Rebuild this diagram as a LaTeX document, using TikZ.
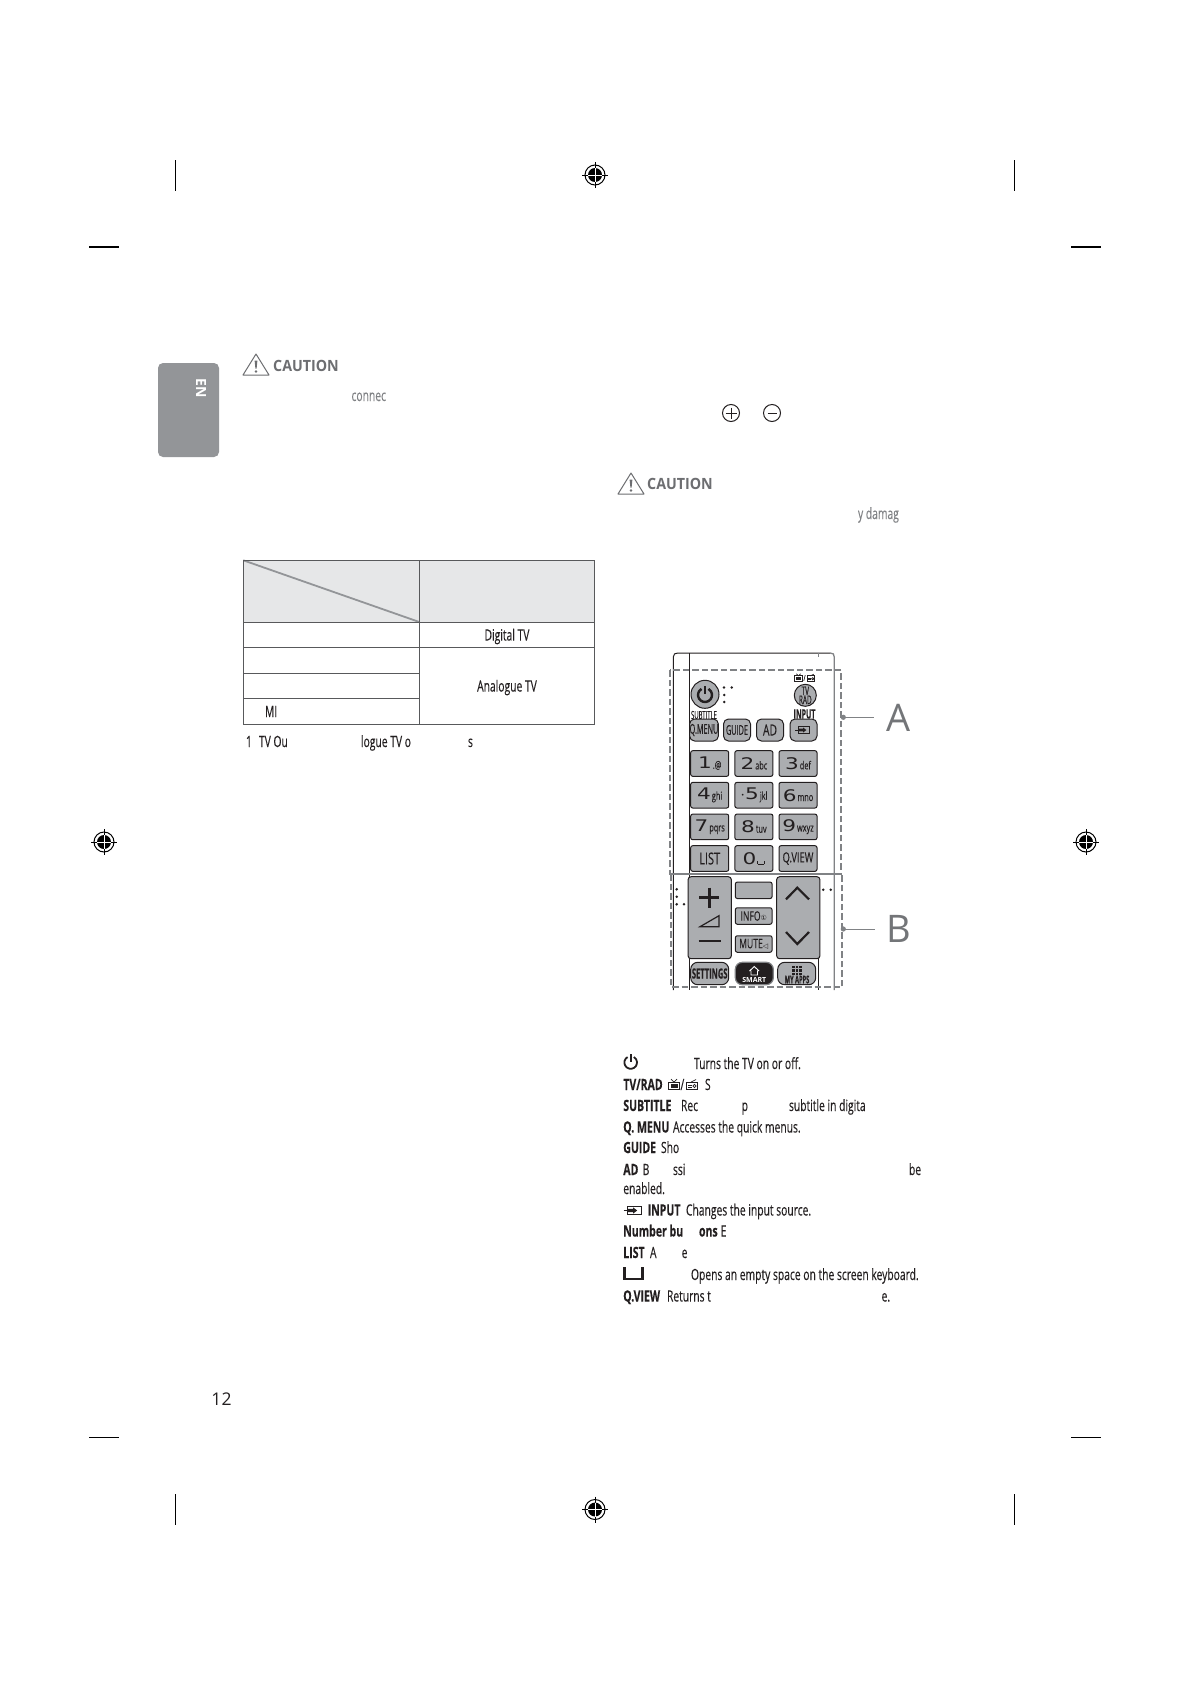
\documentclass[tikz,border=0pt]{standalone}
\usepackage{fontspec}
\setmainfont[FakeStretch=0.665,FakeBold=0.2,BoldFeatures={FakeStretch=0.68,FakeBold=0.2}]{Open Sans}
\newfontfamily\widefont{Open Sans}
\newfontfamily\cautfont[FakeStretch=0.92]{Open Sans}
\newfontfamily\keyfont[FakeStretch=0.54,FakeBold=0.3,BoldFeatures={FakeStretch=0.54,FakeBold=0.3}]{Open Sans}
\newfontfamily\digfont[FakeStretch=1.35]{DejaVu Sans}
\newfontfamily\symfont{DejaVu Sans}
\definecolor{inkd}{HTML}{231F20}
\definecolor{cautg}{HTML}{6D6E71}
\definecolor{bodyg}{HTML}{808285}
\definecolor{tabg}{HTML}{939598}
\definecolor{headg}{HTML}{E6E7E8}
\definecolor{keyg}{HTML}{ABADB0}
\definecolor{ruleg}{HTML}{58595B}
\newcommand{\fs}[1]{\fontsize{#1}{#1}\selectfont}
\tikzset{
  txt/.style={anchor=base west,inner sep=0pt,outer sep=0pt,text=inkd,font=\fs{15.5}},
  txtb/.style={txt,font=\bfseries\fs{15.5}},
  txtg/.style={txt,text=bodyg},
  caut/.style={anchor=base west,inner sep=0pt,text=cautg,font=\bfseries\cautfont\fs{15.5}},
  cell/.style={anchor=center,inner sep=0pt,text=inkd,font=\fs{15.5}},
  crop/.style={line width=1pt,black},
  thinrule/.style={line width=1pt,ruleg},
  roundkey/.style={draw=inkd,fill=keyg,line width=1pt,rounded corners=5pt,minimum width=27pt,minimum height=22pt,inner sep=0pt,text=inkd,font=\keyfont\fs{13.5}},
  numkey/.style={draw=inkd,fill=keyg,line width=1pt,rounded corners=2pt,minimum width=38pt,minimum height=25.6pt,inner sep=0pt,text=inkd},
  smallkey/.style={draw=inkd,fill=keyg,line width=1pt,rounded corners=2pt,minimum width=36.7pt,minimum height=16.5pt,inner sep=0pt,text=inkd,font=\fs{13}},
  longkey/.style={draw=inkd,fill=keyg,line width=1pt,rounded corners=3pt,minimum width=43.3pt,minimum height=82pt,inner sep=0pt},
  botkey/.style={draw=inkd,fill=keyg,line width=1pt,rounded corners=7pt,minimum width=38pt,minimum height=22.4pt,inner sep=0pt,text=inkd},
  lbl/.style={inner sep=0pt,text=bodyg!90!black,font=\widefont\fs{38}},
  dashbox/.style={draw=bodyg,line width=2pt,dash pattern=on 6.5pt off 3pt},
  keytext/.style={inner sep=0pt,text=inkd,font=\fs{10}},
  dotk/.style={fill=inkd,draw=none},
  regmark/.pic={
    \draw[line width=1pt,black] (0,0) circle[radius=10pt];
    \fill[black] (0,0) circle[radius=7pt];
    \draw[line width=1pt,black] (-13,0) -- (13,0) (0,-13) -- (0,13);
    \draw[line width=.9pt,white] (-7,0) -- (7,0) (0,-7) -- (0,7);
  },
  cautionicon/.pic={
    \draw[line width=1pt,cautg,line join=round] (0,21) -- (13,0) -- (26,21) -- cycle;
    \fill[cautg] (11.6,6.5) -- (14.4,6.5) -- (13.6,14.5) -- (12.4,14.5) -- cycle;
    \fill[cautg] (13,17.5) circle[radius=1.3pt];
  },
  poweric/.pic={
    \draw[line width=#1,inkd] (120:7pt) arc[start angle=120,end angle=420,radius=7pt];
    \draw[line width=#1,inkd] (0,-9) -- (0,-1);
  },
  inputic/.pic={
    \draw[line width=1pt,inkd] (-9,0) -- (-5,0);
    \draw[line width=1pt,inkd] (-5,-4) rectangle (8,4);
    \fill[inkd] (-5,-1.5) -- (0,-1.5) -- (0,-3) -- (4,0) -- (0,3) -- (0,1.5) -- (-5,1.5) -- cycle;
  },
  tvic/.pic={
    \draw[line width=.9pt,inkd] (-5.5,-3) rectangle (5.5,4.5);
    \fill[inkd] (-3.5,-1.5) rectangle (3.5,3);
    \draw[line width=.7pt,inkd] (0,-3) -- (-3,-6) (0,-3) -- (3,-6);
  },
  radioic/.pic={
    \draw[line width=.9pt,inkd] (-5.5,-3) rectangle (5.5,4.5);
    \draw[line width=.7pt,inkd] (-4,0) -- (0,0) (-4,2) -- (0,2);
    \draw[line width=.7pt,inkd] (2.5,1) circle[radius=1.7pt];
    \draw[line width=.7pt,inkd] (-1,-3) -- (4,-5.5);
  },
}
\newcommand{\nk}[2]{{\digfont\fs{16}#1}\kern1pt{\fs{11}#2}}
\begin{document}
\begin{tikzpicture}[x=1pt,y=-1pt]
\useasboundingbox[fill=white] (0,0) rectangle (1190,1684);

% crop marks
\draw[crop] (175.4,160) -- (175.4,191);
\draw[crop] (1014.4,160) -- (1014.4,191);
\draw[crop,line width=2pt] (89,246.5) -- (119,246.5);
\draw[crop,line width=2pt] (1071,246.5) -- (1101,246.5);
\draw[crop,line width=.7pt] (89,1437) -- (119,1437);
\draw[crop,line width=.7pt] (1071,1437) -- (1101,1437);
\draw[crop] (175.4,1494) -- (175.4,1525);
\draw[crop] (1014.4,1494) -- (1014.4,1525);
% registration marks
\pic at (595,175) {regmark};
\pic at (104,842) {regmark};
\pic at (1086,842) {regmark};
\pic at (595,1509.5) {regmark};

% language tab
\node[fill=tabg,rounded corners=5pt,minimum width=61pt,minimum height=94pt,inner sep=0pt] (tab) at (188.5,410) {};
\node[rotate=-90,inner sep=0pt,text=white,font=\bfseries\widefont\fs{14}] (en) at (201,388.5) {EN};

% cautions
\pic at (243,354) {cautionicon};
\node[caut] (caut1) at (273,371) {CAUTION};
\node[txtg] (connec) at (351.5,401) {connec};
\pic at (618,473) {cautionicon};
\node[caut] (caut2) at (647,489) {CAUTION};
\node[txtg] (damag) at (858,519) {y damag};
\node[draw=inkd,line width=1pt,circle,minimum size=17pt,inner sep=0pt] (plus) at (731,413) {};
\draw[line width=1pt,inkd] (plus.center) ++(-5.5,0) -- ++(11,0) (plus.center) ++(0,-5.5) -- ++(0,11);
\node[draw=inkd,line width=1pt,circle,minimum size=17pt,inner sep=0pt] (minus) at (772,413) {};
\draw[line width=1pt,inkd] (minus.center) ++(-4.5,0) -- ++(9,0);

% table
\fill[headg] (243.3,560.3) rectangle (594.7,622);
\draw[tabg,line width=1.8pt] (243.3,560.3) -- (419.3,622);
\draw[thinrule] (243.3,560.3) rectangle (594.7,724);
\draw[thinrule] (419.3,560.3) -- (419.3,724);
\draw[thinrule] (243.3,622) -- (594.7,622);
\draw[thinrule] (243.3,647.3) -- (594.7,647.3);
\draw[thinrule] (243.3,673.3) -- (419.3,673.3);
\draw[thinrule] (243.3,698.3) -- (419.3,698.3);
\node[cell] (digital) at (507,636.5) {Digital TV};
\node[cell] (analogue) at (507,687.5) {Analogue TV};
\node[txt] (mi) at (265,717) {MI};
\node[txt] (fn1) at (246,747) {1};
\node[txt] (fn2) at (259,747) {TV Ou};
\node[txt] (fn3) at (361,747) {logue TV o};
\node[txt] (fn4) at (468,747) {s};

% remote body
\draw[line width=1pt,inkd] (673.3,990) -- (673.3,657) .. controls (673.3,654) and (675,653) .. (678,653) -- (830,653);
\draw[line width=1.3pt,bodyg] (830,653) .. controls (833,653) and (834.3,654) .. (834.3,657) -- (834.3,990);
\draw[line width=1pt,inkd] (689.3,653) -- (689.3,990);
\draw[line width=.8pt,bodyg] (818.7,653) -- (818.7,657);
\draw[line width=1pt,inkd] (818.7,958) -- (818.7,990);

% section boxes
\draw[dashbox] (670,670.3) rectangle (841.3,874.3);
\draw[dashbox] (671,874.3) rectangle (842,987.3);

% top area keys
\node[draw=inkd,fill=keyg,line width=1pt,circle,minimum size=28pt,inner sep=0pt] (power) at (705,694.3) {};
\pic at (705,695) {poweric={2.4pt}};
\foreach \px/\py in {724/687.5,731.7/687.5,724.3/695,724.3/702}{\fill[dotk] (\px,\py) circle[radius=1.4pt];}
\node[draw=inkd,fill=keyg,line width=1pt,circle,minimum size=22pt,inner sep=0pt,text=inkd,align=center,font=\keyfont\fs{12}] (tvrad) at (805.3,695.3) {\fs{12}TV\\[-3pt]\fs{12}RAD};
\pic[scale=.7] at (798.5,678) {tvic};
\node[inner sep=0pt,font=\fs{8},text=inkd] (slash) at (804.5,678) {/};
\pic[scale=.7] at (811,678) {radioic};
\node[keytext,font=\keyfont\fs{11}] (subtitle) at (704,715) {SUBTITLE};
\node[keytext,font=\bfseries\keyfont\fs{13}] (inputlbl) at (804.5,714) {INPUT};
\node[roundkey] (qmenu) at (704,730) {Q.MENU};
\node[roundkey] (guide) at (737,730) {GUIDE};
\node[roundkey,font=\fs{15.5}] (ad) at (770,730) {AD};
\node[roundkey] (inputkey) at (803.5,730) {};
\pic[scale=.85] at (803,730) {inputic};

% number keys
\node[numkey] (k1) at (709.7,763.5) {\nk{1}{.@}};
\node[numkey] (k2) at (753.9,763.5) {\nk{2}{abc}};
\node[numkey] (k3) at (798,763.5) {\nk{3}{def}};
\node[numkey] (k4) at (709.7,795.2) {\nk{4}{ghi}};
\node[numkey] (k5) at (753.9,795.2) {\nk{$\cdot$5}{jkl}};
\node[numkey] (k6) at (798,795.2) {\nk{6}{mno}};
\node[numkey] (k7) at (709.7,826.9) {\nk{7}{pqrs}};
\node[numkey] (k8) at (753.9,826.9) {\nk{8}{tuv}};
\node[numkey] (k9) at (798,826.9) {\nk{9}{wxyz}};
\node[numkey,font=\fs{16.5}] (list) at (709.7,858.5) {LIST};
\node[numkey] (k0) at (753.9,858.5) {\nk{0}{\rule{.8pt}{3pt}\rule{6pt}{.8pt}\rule{.8pt}{3pt}}};
\node[numkey,font=\fs{14}] (qview) at (798,858.5) {Q.VIEW};

% lower keys
\node[longkey] (vol) at (709.7,917.7) {};
\draw[line width=2.8pt,inkd] (699.3,897.7) -- (719.3,897.7) (709.3,887.7) -- (709.3,907.7);
\draw[line width=1.2pt,inkd] (700,926.7) -- (719,926.7) -- (719,915.7) -- cycle;
\draw[line width=2.8pt,inkd] (698.7,941) -- (720.7,941);
\node[longkey] (ch) at (798.3,917.7) {};
\draw[line width=2.2pt,inkd] (786,899.3) -- (797.3,887.7) -- (809,899.3);
\draw[line width=2.2pt,inkd] (786,932) -- (797.3,944) -- (809,932);
\node[smallkey] (blank) at (753.7,890.3) {};
\node[smallkey] (info) at (753.7,916) {INFO{\symfont\fs{7}①}};
\node[smallkey] (mute) at (753.7,944) {MUTE{\symfont\fs{7}◁}};
\foreach \px/\py in {676.7/889.3,676.7/896.7,676.7/904.3,684/904.3,823.3/889.7,830.7/889.7}{\fill[dotk] (\px,\py) circle[radius=1.4pt];}
\node[botkey,font=\bfseries\keyfont\fs{14}] (settings) at (709.7,973.5) {SETTINGS};
\node[botkey,fill=inkd,draw=bodyg,line width=1.2pt] (smart) at (754.3,973.5) {};
\node[inner sep=0pt,text=white,font=\bfseries\widefont\fs{7}] (smarttxt) at (754.3,979.5) {SMART};
\draw[line width=.9pt,white] (749.5,971) -- (754.3,966.5) -- (759,971) (751,970.5) -- (751,975) -- (757.5,975) -- (757.5,970.5);
\node[botkey] (myapps) at (796.7,973.5) {};
\node[inner sep=0pt,text=inkd,font=\bfseries\keyfont\fs{10.5}] (myappstxt) at (797,979.5) {MY APPS};
\foreach \gx in {793.5,797,800.5}{\foreach \gy in {967,970.5,974}{\fill[inkd] (\gx-1.2,\gy-1.2) rectangle (\gx+1.2,\gy+1.2);}}

% callouts
\coordinate (adot) at (843.3,717.3);
\coordinate (bdot) at (843.3,929);
\node[lbl] (labA) at (898.5,717.5) {A};
\node[lbl] (labB) at (898.5,928.5) {B};
\fill[bodyg] (adot) circle[radius=2.6pt];
\fill[bodyg] (bdot) circle[radius=2.6pt];
\draw[line width=1pt,bodyg] (adot) -- (874,717.3);
\draw[line width=1pt,bodyg] (bdot) -- (875,929);

% key list
\pic[scale=.9] at (630.7,1062.5) {poweric={1.8pt}};
\node[txt] (l1) at (694,1069) {Turns the TV on or off.};
\node[txtb] (l2a) at (623.3,1090) {TV/RAD};
\pic at (674,1085) {tvic};
\node[txt] (l2s) at (680.5,1090) {/};
\pic at (692,1085) {radioic};
\node[txt] (l2b) at (705,1090) {S};
\node[txtb] (l3a) at (623.3,1111) {SUBTITLE};
\node[txt] (l3b) at (681,1111) {Rec};
\node[txt] (l3c) at (741.7,1111) {p};
\node[txt] (l3d) at (789,1111) {subtitle in digita};
\node[txtb] (l4a) at (623.3,1132.5) {Q. MENU};
\node[txt] (l4b) at (673,1132.5) {Accesses the quick menus.};
\node[txtb] (l5a) at (623.3,1153) {GUIDE};
\node[txt] (l5b) at (661,1153) {Sho};
\node[txtb] (l6a) at (623.3,1175) {AD};
\node[txt] (l6b) at (642.7,1175) {B};
\node[txt] (l6c) at (673,1175) {ssi};
\node[txt] (l6d) at (909,1175) {be};
\node[txt] (l7) at (623.3,1194) {enabled.};
\pic[scale=1.05] at (633,1210.5) {inputic};
\node[txtb] (l8a) at (647.7,1215.5) {INPUT};
\node[txt] (l8b) at (686,1215.5) {Changes the input source.};
\node[txtb] (l9a) at (623.3,1236.5) {Number bu};
\node[txtb] (l9b) at (699,1236.5) {ons};
\node[txt] (l9c) at (720.7,1236.5) {E};
\node[txtb] (l10a) at (623.3,1258) {LIST};
\node[txt] (l10b) at (650,1258) {A};
\node[txt] (l10c) at (681.7,1258) {e};
\draw[line width=2.6pt,inkd] (624.3,1267) -- (624.3,1279) -- (642.7,1279) -- (642.7,1267);
\node[txt] (l11) at (691,1280) {Opens an empty space on the screen keyboard.};
\node[txtb] (l12a) at (623.3,1301.5) {Q.VIEW};
\node[txt] (l12b) at (667,1301.5) {Returns t};
\node[txt] (l12c) at (881.6,1301.5) {e.};

% page number
\node[inner sep=0pt,text=inkd,font=\widefont\fs{17.5}] (page) at (221.5,1399) {12};
\end{tikzpicture}
\end{document}
